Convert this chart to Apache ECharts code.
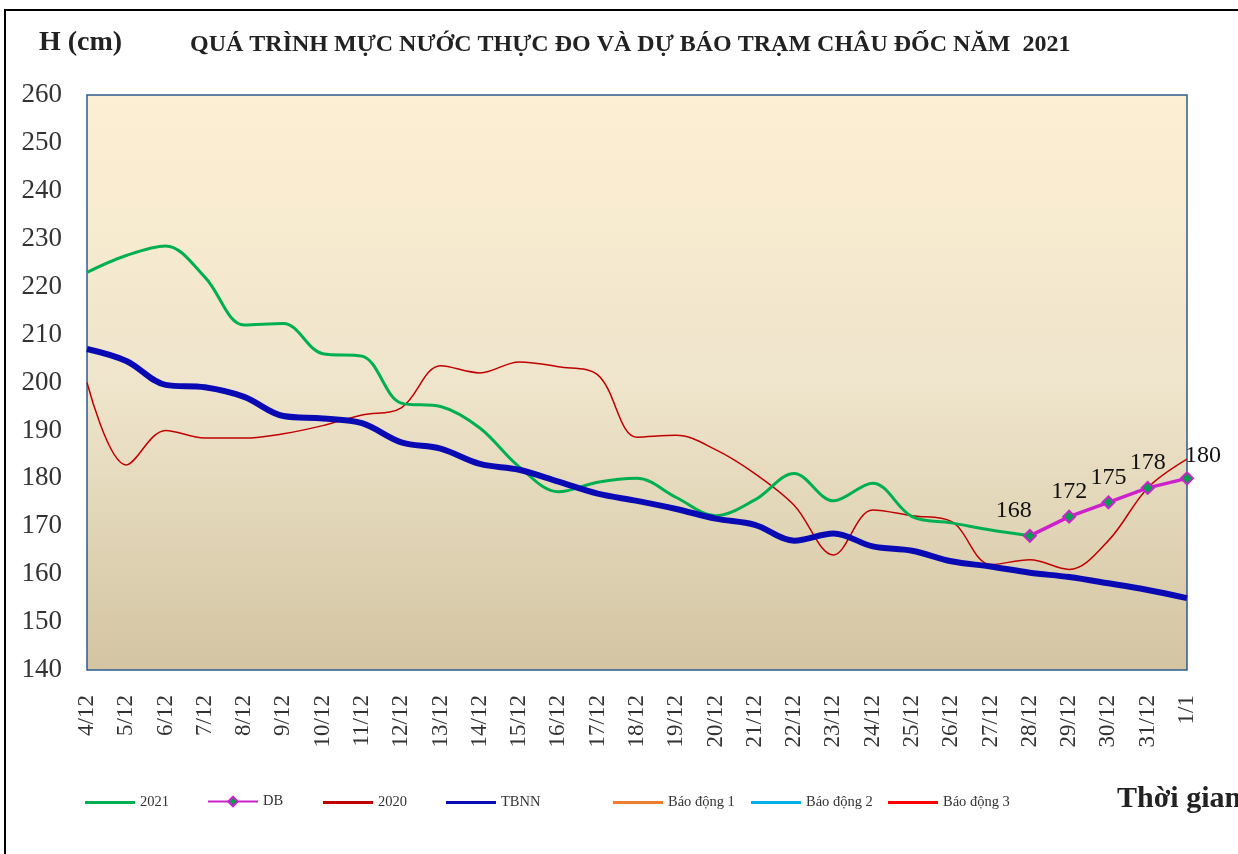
<!DOCTYPE html>
<html>
<head>
<meta charset="utf-8">
<script src="https://cdn.jsdelivr.net/npm/echarts@6/dist/echarts.min.js"></script>
<style>
  html, body { margin: 0; padding: 0; background: #fff; }
  #chart { width: 1238px; height: 854px; }
</style>
</head>
<body>
<div id="chart"></div>
<script>
var days = ['4/12','5/12','6/12','7/12','8/12','9/12','10/12','11/12','12/12','13/12','14/12',
  '15/12','16/12','17/12','18/12','19/12','20/12','21/12','22/12','23/12','24/12','25/12',
  '26/12','27/12','28/12','29/12','30/12','31/12','1/1'];

// muc nuoc thuc do 2021
var h2021 = [223, 226.5, 228.5, 222, 212, 212.3, 206, 205.5, 195.7, 195, 190.5, 182.4, 177.2,
  179.2, 180, 176, 172.2, 175.5, 181, 175.3, 179, 172, 170.7, 169.2, 168];

// du bao
var dbDays = ['28/12','29/12','30/12','31/12','1/1'];
var dbValues = [168, 172, 175, 178, 180];

var h2020 = [200, 182.8, 190, 188.4, 188.4, 189.3, 191, 193.2, 194.7, 203.5, 202, 204.3, 203.3,
  201.6, 188.6, 189, 186, 181, 174.4, 164, 173.4, 172.2, 171, 162, 163, 161, 167, 178, 184];

var tbnn = [207, 204.5, 199.5, 199, 197, 193, 192.5, 191.5, 187.5, 186.2, 183, 181.8, 179.3,
  176.8, 175.3, 173.6, 171.6, 170.3, 167, 168.5, 165.8, 164.9, 162.7, 161.6, 160.3, 159.4,
  158.1, 156.7, 155];

var yTicks = { min: 140, max: 260, step: 10 };

var font = 'Liberation Serif, Times New Roman, serif';

var dbData = days.map(function (d) {
  var k = dbDays.indexOf(d);
  if (k < 0) return null;
  var off = [0, 0];
  if (k === 0) off = [-16, 0];
  if (k === dbDays.length - 1) off = [16, 2];
  return { value: dbValues[k], label: { offset: off } };
});

var legendNames = ['2021', 'DB', '2020', 'TBNN', 'Báo động 1', 'Báo động 2', 'Báo động 3'];
var legendLeft = [85, 207, 323, 446, 613, 751, 888];

var chart = echarts.init(document.getElementById('chart'));

var option = {
  animation: false,
  textStyle: { fontFamily: font },
  grid: {
    left: 87, right: 51, top: 95, bottom: 184,
    show: true,
    borderColor: '#2E5A8E',
    borderWidth: 1.5,
    backgroundColor: {
      type: 'linear', x: 0, y: 0, x2: 0, y2: 1,
      colorStops: [
        { offset: 0, color: '#FDEFD3' },
        { offset: 0.5, color: '#EFE5CC' },
        { offset: 1, color: '#D3C5A2' }
      ]
    }
  },
  legend: legendNames.map(function (n, i) {
    var isDb = n === 'DB';
    return {
      data: [isDb ? n : { name: n, icon: 'rect' }],
      left: legendLeft[i],
      top: isDb ? 794 : 795,
      padding: 0,
      itemWidth: 50,
      itemHeight: isDb ? 12 : 3,
      itemGap: 4,
      textStyle: { fontFamily: font, fontSize: 14.5, color: '#333' }
    };
  }),
  graphic: [
    { type: 'rect', shape: { x: 5, y: 10, width: 1300, height: 900 },
      style: { fill: 'none', stroke: '#000', lineWidth: 2 }, silent: true },
    { type: 'text', left: 39, top: 29,
      style: { text: 'H (cm)', font: 'bold 28px ' + font, fill: '#222' } },
    { type: 'text', left: 190, top: 33,
      style: { text: 'QUÁ TRÌNH MỰC NƯỚC THỰC ĐO VÀ DỰ BÁO TRẠM CHÂU ĐỐC NĂM  2021',
        font: 'bold 24px ' + font, fill: '#222' } },
    { type: 'text', left: 1117, top: 784,
      style: { text: 'Thời gian', font: 'bold 30px ' + font, fill: '#222' } }
  ],
  xAxis: {
    type: 'category',
    data: days,
    boundaryGap: false,
    axisLine: { show: false },
    axisTick: { show: false },
    axisLabel: {
      rotate: 90, interval: 0, margin: 25,
      fontFamily: font, fontSize: 23, color: '#333'
    },
    splitLine: { show: false }
  },
  yAxis: {
    type: 'value',
    min: yTicks.min, max: yTicks.max, interval: yTicks.step,
    axisLine: { show: false },
    axisTick: { show: false },
    splitLine: { show: false },
    axisLabel: { margin: 25, fontFamily: font, fontSize: 27, color: '#333' }
  },
  series: [
    {
      name: '2021', type: 'line', data: h2021, smooth: 0.35, symbol: 'none',
      lineStyle: { color: '#00B050', width: 3 }, itemStyle: { color: '#00B050' }, z: 3
    },
    {
      name: 'DB', type: 'line', data: dbData, symbol: 'diamond', symbolSize: 12,
      lineStyle: { color: '#CC22CC', width: 3.5 },
      itemStyle: { color: '#00A050', borderColor: '#CC22CC', borderWidth: 2 },
      label: { show: true, position: 'top', distance: 6, fontFamily: font, fontSize: 24, color: '#111' },
      z: 5
    },
    {
      name: '2020', type: 'line', data: h2020, smooth: 0.35, symbol: 'none',
      lineStyle: { color: '#C00000', width: 1.5 }, itemStyle: { color: '#C00000' }, z: 2
    },
    {
      name: 'TBNN', type: 'line', data: tbnn, smooth: 0.35, symbol: 'none',
      lineStyle: { color: '#0A0AB4', width: 6 }, itemStyle: { color: '#0A0AB4' }, z: 4
    },
    {
      name: 'Báo động 1', type: 'line', data: [], symbol: 'none',
      lineStyle: { color: '#ED7D31', width: 3 }, itemStyle: { color: '#ED7D31' }
    },
    {
      name: 'Báo động 2', type: 'line', data: [], symbol: 'none',
      lineStyle: { color: '#00B0F0', width: 3 }, itemStyle: { color: '#00B0F0' }
    },
    {
      name: 'Báo động 3', type: 'line', data: [], symbol: 'none',
      lineStyle: { color: '#FF0000', width: 3 }, itemStyle: { color: '#FF0000' }
    }
  ]
};

chart.setOption(option);
</script>
</body>
</html>
